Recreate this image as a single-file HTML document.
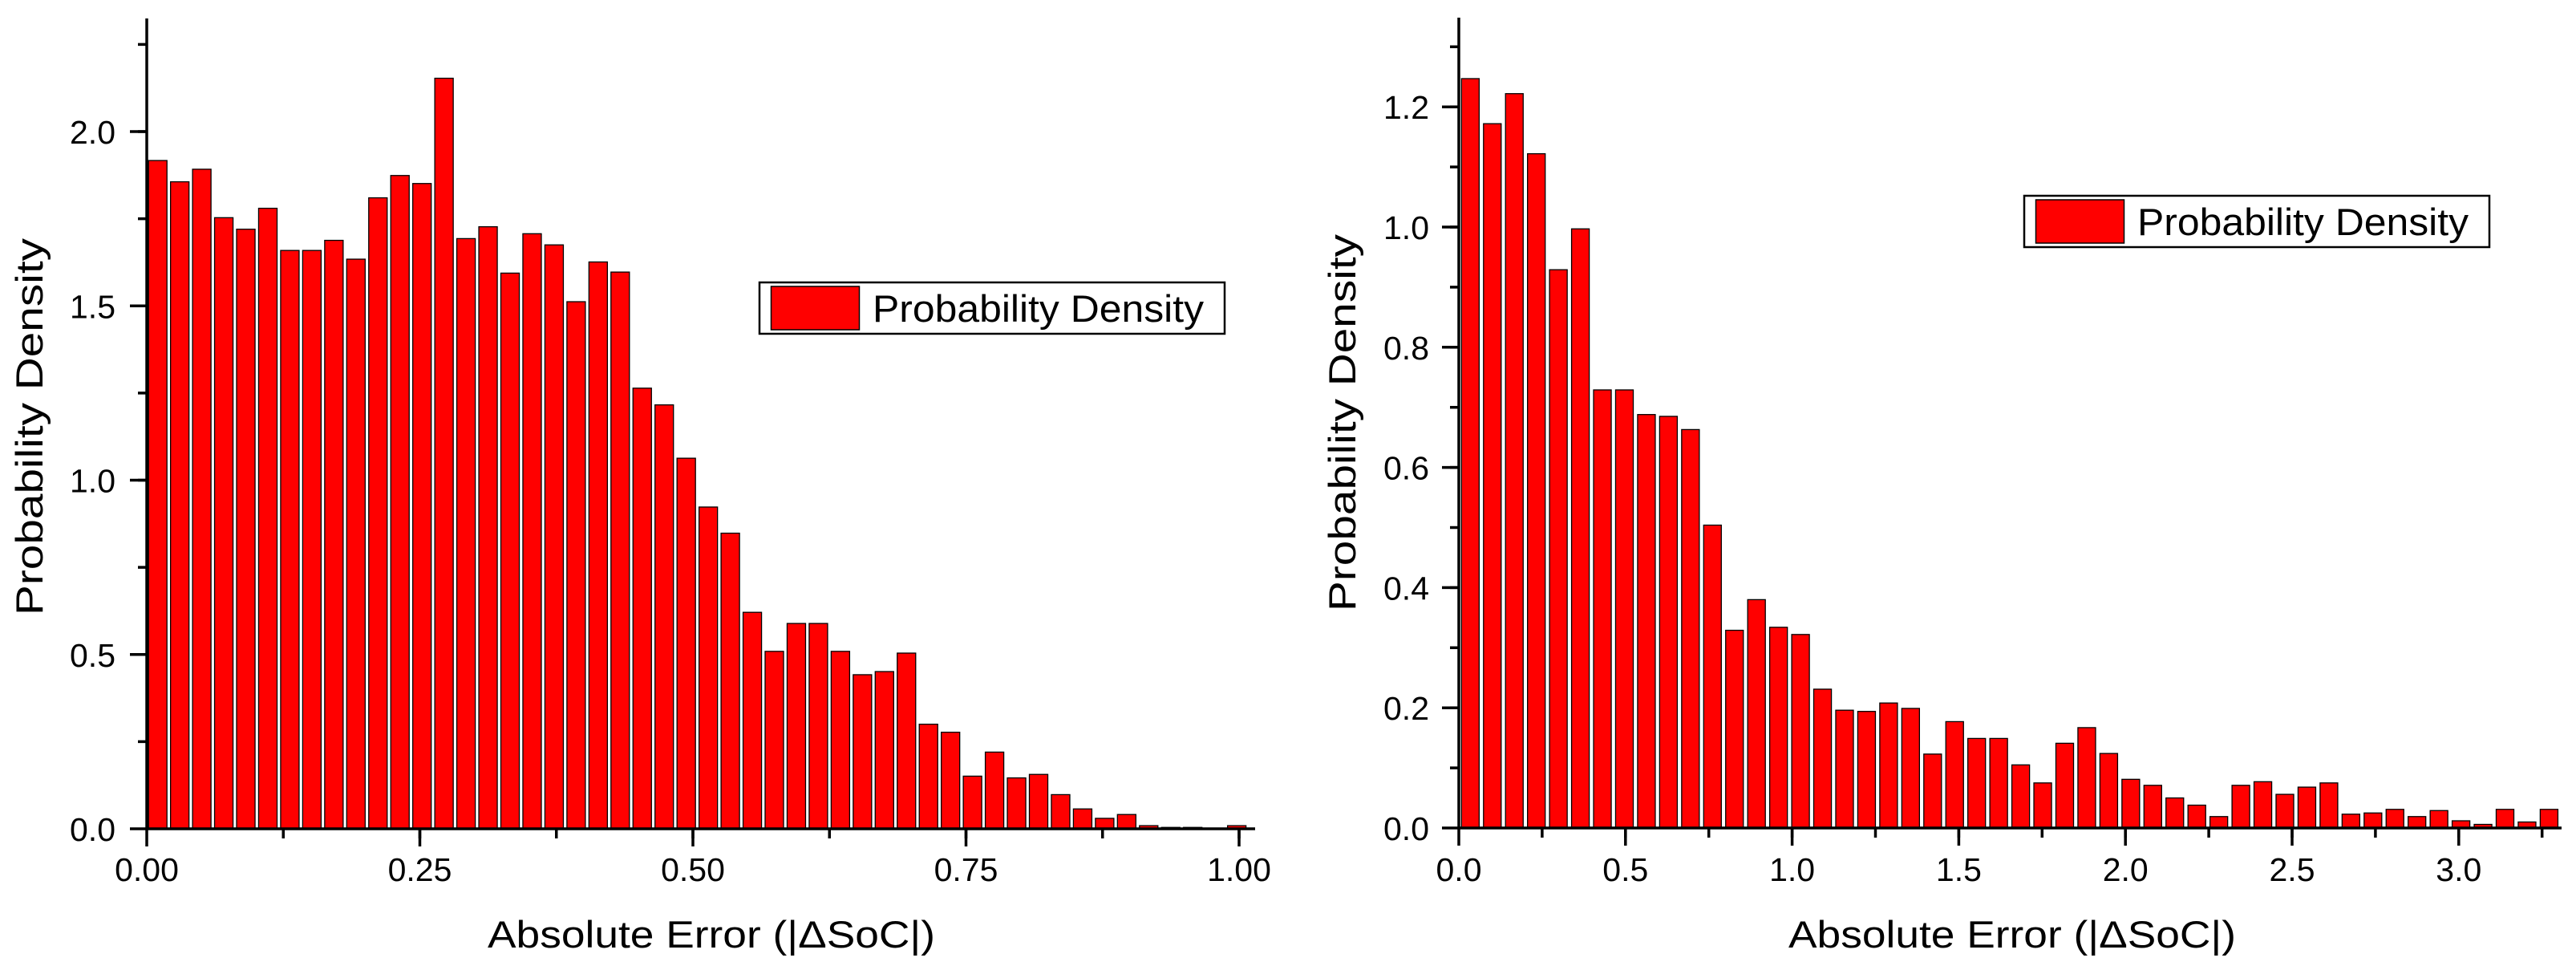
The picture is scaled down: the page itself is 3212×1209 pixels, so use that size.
<!DOCTYPE html>
<html><head><meta charset="utf-8"><style>
html,body{margin:0;padding:0;background:#fff;}
svg{display:block;font-family:"Liberation Sans",Arial,sans-serif;}
</style></head><body>
<svg id="chart" width="3212" height="1209" viewBox="0 0 3212 1209" xmlns="http://www.w3.org/2000/svg">
<g id="left"></g>
<g id="right"></g>
</svg>
<script>
// ---- Left chart data ----
const leftValues = [1.917,1.856,1.892,1.753,1.720,1.780,1.659,1.659,1.688,1.634,
1.810,1.874,1.851,2.153,1.693,1.727,1.594,1.707,1.675,1.512,
1.626,1.597,1.264,1.216,1.063,0.923,0.848,0.621,0.509,0.589,
0.589,0.509,0.442,0.451,0.504,0.300,0.277,0.151,0.220,0.146,
0.156,0.098,0.057,0.030,0.041,0.009,0.004,0.004,0.002,0.009];
const leftXTicks = [0, 0.25, 0.5, 0.75, 1.0];
const leftXTickLabels = ["0.00","0.25","0.50","0.75","1.00"];
const leftYTicks = [0, 0.5, 1.0, 1.5, 2.0];
const leftYTickLabels = ["0.0","0.5","1.0","1.5","2.0"];
// ---- Right chart data ----
const rightValues = [1.247,1.172,1.222,1.122,0.929,0.997,0.729,0.729,0.688,0.685,
0.663,0.504,0.329,0.380,0.334,0.322,0.231,0.196,0.194,0.208,
0.199,0.123,0.177,0.149,0.149,0.105,0.075,0.141,0.167,0.124,
0.081,0.071,0.050,0.038,0.019,0.071,0.077,0.056,0.068,0.075,
0.023,0.025,0.031,0.019,0.029,0.012,0.006,0.031,0.010,0.031];
const rightXTicks = [0, 0.5, 1.0, 1.5, 2.0, 2.5, 3.0];
const rightXTickLabels = ["0.0","0.5","1.0","1.5","2.0","2.5","3.0"];
const rightYTicks = [0, 0.2, 0.4, 0.6, 0.8, 1.0, 1.2];
const rightYTickLabels = ["0.0","0.2","0.4","0.6","0.8","1.0","1.2"];

const NS = "http://www.w3.org/2000/svg";
function mk(parent, tag, attrs, text){
  const e = document.createElementNS(NS, tag);
  for (const k in attrs) e.setAttribute(k, attrs[k]);
  if (text !== undefined) e.textContent = text;
  parent.appendChild(e);
  return e;
}

function drawChart(g, cfg){
  const X = v => cfg.x0 + v * cfg.xs;
  const Y = v => cfg.y0 - v * cfg.ys;
  cfg.values.forEach((v, i) => {
    const left = i * cfg.binW + cfg.barOff;
    const r = mk(g, "rect", {x: X(left), y: Y(v), width: cfg.barW * cfg.xs, height: cfg.y0 - Y(v),
      fill: "#ff0000", stroke: "#000", "stroke-width": 1.3});
    
    
  });
  const ya = mk(g, "line", {x1: cfg.x0, y1: cfg.y0 + 1.5, x2: cfg.x0, y2: cfg.axTop, stroke: "#000", "stroke-width": 3.5});
  
  
  const xa = mk(g, "line", {x1: cfg.x0 - 1.5, y1: cfg.y0, x2: cfg.axRight, y2: cfg.y0, stroke: "#000", "stroke-width": 3.5});
  
  
  for (let v = cfg.yMinor; v <= cfg.yMax + 1e-9; v += cfg.yMinor) {
    const y = Y(v);
    mk(g, "line", {x1: cfg.x0 - 11, y1: y, x2: cfg.x0, y2: y, stroke: "#000", "stroke-width": 3.5});
  }
  cfg.yTicks.forEach((v, i) => {
    const y = Y(v);
    mk(g, "line", {x1: cfg.x0 - 21, y1: y, x2: cfg.x0, y2: y, stroke: "#000", "stroke-width": 3.5});
    const t = mk(g, "text", {x: cfg.yLabelRight, y: y + 15, "font-size": 41, "text-anchor": "end", fill: "#000"}, cfg.yLabels[i]);
    
    
  });
  for (let v = cfg.xMinor; v <= cfg.xMax + 1e-9; v += cfg.xMinor) {
    const x = X(v);
    mk(g, "line", {x1: x, y1: cfg.y0, x2: x, y2: cfg.y0 + 12, stroke: "#000", "stroke-width": 3.5});
  }
  cfg.xTicks.forEach((v, i) => {
    const x = X(v);
    mk(g, "line", {x1: x, y1: cfg.y0, x2: x, y2: cfg.y0 + 22, stroke: "#000", "stroke-width": 3.5});
    const t = mk(g, "text", {x: x, y: 1098, "font-size": 41, "text-anchor": "middle", fill: "#000"}, cfg.xLabels[i]);
    
    
  });
  const xt = mk(g, "text", {x: cfg.xTitleX, y: 1181, "font-size": 47, fill: "#000", textLength: 558, lengthAdjust: "spacingAndGlyphs"}, "Absolute Error (|\u0394SoC|)");
  
  
  const yt = mk(g, "text", {x: 0, y: 0, "font-size": 47, fill: "#000", "text-anchor": "middle",
    transform: `translate(${cfg.yTitleX},${cfg.yTitleY}) rotate(-90)`, textLength: 470, lengthAdjust: "spacingAndGlyphs"}, "Probability Density");
  
  
  const lg = mk(g, "g", {});
  
  
  mk(lg, "rect", {x: cfg.lx, y: cfg.ly, width: 580, height: 64, fill: "#fff", stroke: "#000", "stroke-width": 2.5});
  const sw = mk(lg, "rect", {x: cfg.lx + 14.5, y: cfg.ly + 5, width: 110, height: 54, fill: "#ff0000", stroke: "#000", "stroke-width": 1.5});
  
  
  const lt = mk(lg, "text", {x: cfg.lx + 141, y: cfg.ly + 49, "font-size": 47, fill: "#000", textLength: 413, lengthAdjust: "spacingAndGlyphs"}, "Probability Density");
  
  
}

drawChart(document.getElementById("left"), {
  values: leftValues, x0: 183, xs: 1362, y0: 1033, ys: 434.5,
  binW: 0.02016, barOff: 0.0016, barW: 0.0169,
  axTop: 23, axRight: 1565, yMinor: 0.25, yMax: 2.3, xMinor: 0.125, xMax: 1.01,
  yTicks: leftYTicks, yLabels: leftYTickLabels, xTicks: leftXTicks, xLabels: leftXTickLabels,
  yLabelRight: 144, xTitleX: 608, yTitleX: 53, yTitleY: 532, lx: 947, ly: 352
});
drawChart(document.getElementById("right"), {
  values: rightValues, x0: 1819, xs: 415.6, y0: 1032, ys: 749,
  binW: 0.06605, barOff: 0.008, barW: 0.053,
  axTop: 22, axRight: 3194, yMinor: 0.1, yMax: 1.34, xMinor: 0.25, xMax: 3.29,
  yTicks: rightYTicks, yLabels: rightYTickLabels, xTicks: rightXTicks, xLabels: rightXTickLabels,
  yLabelRight: 1782, xTitleX: 2230, yTitleX: 1690, yTitleY: 527, lx: 2524, ly: 244
});
</script>
</body></html>
